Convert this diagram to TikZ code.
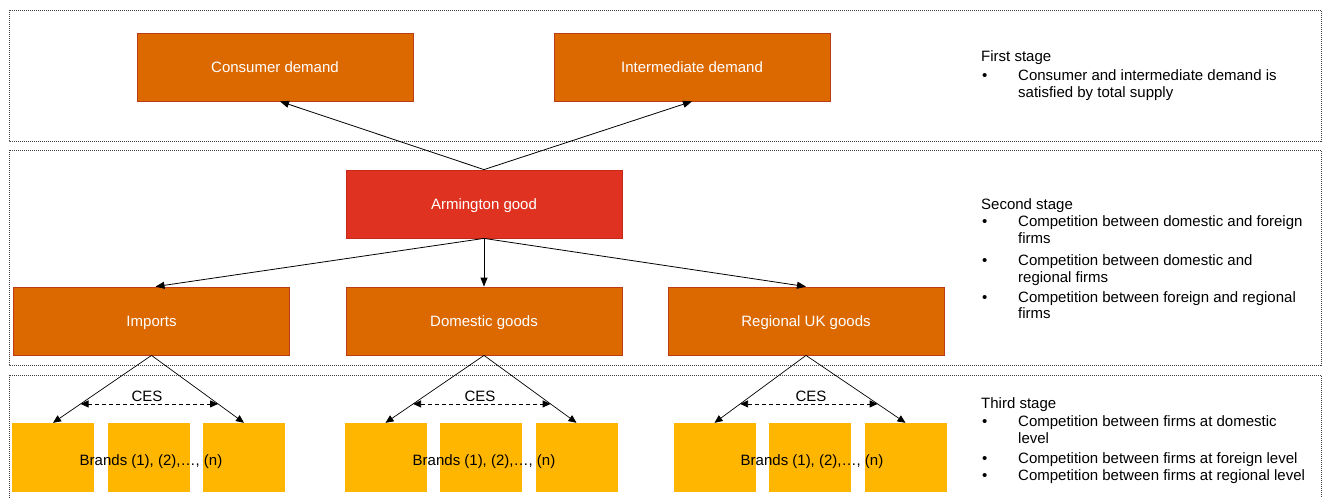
\documentclass[tikz,border=0pt]{standalone}
\usepackage{fontspec}
\setmainfont{Liberation Sans}
\usetikzlibrary{arrows.meta,calc}
\definecolor{boxorange}{RGB}{220,105,0}
\definecolor{boxedge}{RGB}{190,60,20}
\definecolor{armred}{RGB}{224,50,32}
\definecolor{armedge}{RGB}{200,40,25}
\definecolor{brandyellow}{RGB}{255,182,0}
\begin{document}
\begin{tikzpicture}[x=1pt,y=-1pt,
  font=\fontsize{15}{17}\selectfont,
  frame/.style={draw=black!75, line width=0.7pt, dash pattern=on 1pt off 1pt},
  obox/.style={draw=boxedge, fill=boxorange, line width=0.8pt, minimum width=276pt, minimum height=68pt, inner sep=0pt, text=white, text height=11pt, text depth=0pt},
  abox/.style={obox, draw=armedge, fill=armred},
  brand/.style={fill=brandyellow, minimum width=82pt, minimum height=69pt, inner sep=0pt},
  conn/.style={draw=black, line width=0.8pt, -{Triangle[length=9pt,width=7pt]}},
  link/.style={draw=black, line width=0.7pt, -{Triangle[length=8pt,width=7pt]}},
  ces/.style={draw=black, line width=0.8pt, dash pattern=on 4pt off 3pt, {Triangle[length=8pt,width=7pt]}-{Triangle[length=8pt,width=7pt]}},
  lbl/.style={anchor=base west, inner sep=0pt},
  ctr/.style={anchor=base, inner sep=0pt},
]
\useasboundingbox (0,0) rectangle (1323,498);

% stage frames
\draw[frame] (9,10) rectangle (1321,141);
\draw[frame] (9,150) rectangle (1321,365);
\draw[frame] (9,375) rectangle (1321,510);

% main boxes
\node[obox] (cd) at (275,67) {Consumer demand};
\node[obox] (id) at (692,67) {Intermediate demand};
\node[abox] (arm) at (484,204) {Armington good};
\node[obox] (imp) at (151.5,321) {Imports};
\node[obox] (dom) at (484,321) {Domestic goods};
\node[obox] (reg) at (806,321) {Regional UK goods};

% brand boxes
\node[brand] (b11) at (53,457.5) {};
\node[brand] (b12) at (148.5,457.5) {};
\node[brand] (b13) at (244,457.5) {};
\node[brand] (b21) at (385.5,457.5) {};
\node[brand] (b22) at (480.5,457.5) {};
\node[brand] (b23) at (576.5,457.5) {};
\node[brand] (b31) at (714.5,457.5) {};
\node[brand] (b32) at (809.5,457.5) {};
\node[brand] (b33) at (905.5,457.5) {};

\node[ctr] (bt1) at (151,465) {Brands (1), (2),…, (n)};
\node[ctr] (bt2) at (484,465) {Brands (1), (2),…, (n)};
\node[ctr] (bt3) at (812,465) {Brands (1), (2),…, (n)};

% connectors
\draw[conn] (arm.north) -- ([xshift=5pt]cd.south);
\draw[conn] (arm.north) -- (id.south);
\draw[conn] (arm.south) -- ([xshift=4pt]imp.north);
\draw[conn] (arm.south) -- (dom.north);
\draw[conn] (arm.south) -- (reg.north);

\draw[link] (imp.south) -- (b11.north);
\draw[link] (imp.south) -- (b13.north);
\draw[link] (dom.south) -- (b21.north);
\draw[link] (dom.south) -- (b23.north);
\draw[link] (reg.south) -- (b31.north);
\draw[link] (reg.south) -- (b33.north);

\draw[ces] ($(imp.south)!0.72!(b11.north)$) -- ($(imp.south)!0.72!(b13.north)$);
\draw[ces] ($(dom.south)!0.72!(b21.north)$) -- ($(dom.south)!0.72!(b23.north)$);
\draw[ces] ($(reg.south)!0.72!(b31.north)$) -- ($(reg.south)!0.72!(b33.north)$);

\node[ctr] (ces1) at (147,401) {CES};
\node[ctr] (ces2) at (480,401) {CES};
\node[ctr] (ces3) at (811,401) {CES};

% stage descriptions
\node[lbl] (s1h) at (981,61) {First stage};
\node[lbl] (s1d1) at (982,80) {•};
\node[lbl] (s1t1) at (1018,80) {Consumer and intermediate demand is};
\node[lbl] (s1t2) at (1018,97) {satisfied by total supply};

\node[lbl] (s2h) at (981,209) {Second stage};
\node[lbl] (s2d1) at (982,226) {•};
\node[lbl] (s2t1) at (1018,226) {Competition between domestic and foreign};
\node[lbl] (s2t1b) at (1018,243) {firms};
\node[lbl] (s2d2) at (982,265) {•};
\node[lbl] (s2t2) at (1018,265) {Competition between domestic and};
\node[lbl] (s2t2b) at (1018,282) {regional firms};
\node[lbl] (s2d3) at (982,302) {•};
\node[lbl] (s2t3) at (1018,302) {Competition between foreign and regional};
\node[lbl] (s2t3b) at (1018,318) {firms};

\node[lbl] (s3h) at (981,408) {Third stage};
\node[lbl] (s3d1) at (982,426) {•};
\node[lbl] (s3t1) at (1018,426) {Competition between firms at domestic};
\node[lbl] (s3t1b) at (1018,443) {level};
\node[lbl] (s3d2) at (982,463) {•};
\node[lbl] (s3t2) at (1018,463) {Competition between firms at foreign level};
\node[lbl] (s3d3) at (982,480) {•};
\node[lbl] (s3t3) at (1018,480) {Competition between firms at regional level};
\end{tikzpicture}
\end{document}
